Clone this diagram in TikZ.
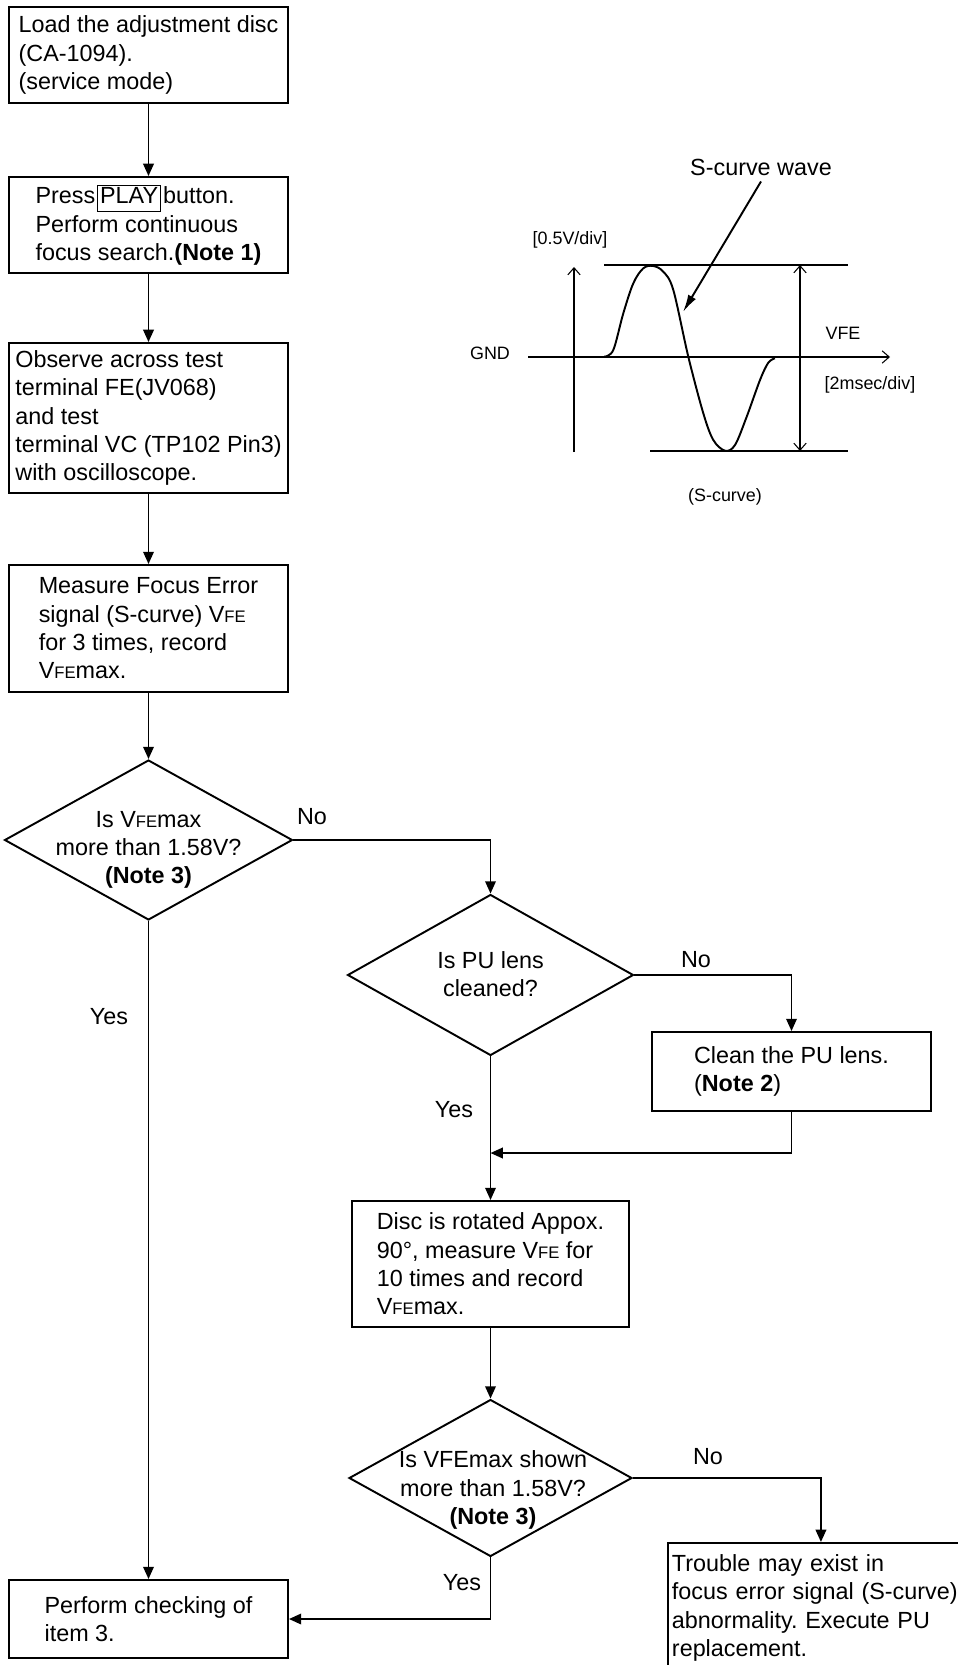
\documentclass[tikz,border=0pt]{standalone}
\usepackage{fontspec}
\setmainfont{Liberation Sans}
\usetikzlibrary{shapes.geometric,arrows.meta,positioning}
\frenchspacing

\newcommand{\vfe}{V{\fontsize{9.5pt}{9.5pt}\selectfont FE}}
\newcommand{\keycap}[1]{{\setlength{\fboxsep}{1.2pt}\setlength{\fboxrule}{0.6pt}\fbox{\vphantom{Py}#1}}}

\begin{document}
\begin{tikzpicture}[
    x=0.02cm, y=-0.02cm,
    >={Straight Barb[length=4pt,width=7pt]},
    box/.style={rectangle, draw=black, line width=1.1pt, align=left, inner sep=0pt, minimum width=5.58cm, font=\fontsize{13.3pt}{16.1pt}\selectfont},
    decision/.style={diamond, draw=black, line width=1.1pt, inner sep=0pt},
    qtext/.style={align=center, inner sep=0pt, font=\fontsize{13.3pt}{16.1pt}\selectfont},
    answer/.style={font=\fontsize{13.3pt}{16.1pt}\selectfont},
    arrow/.style={-{Triangle[length=7pt,width=6pt]}, line width=1.1pt},
    axisline/.style={line width=0.6pt},
    axislabel/.style={font=\fontsize{10.2pt}{12pt}\selectfont}
]
\useasboundingbox (0,0) rectangle (957,1665);

% Left column
\node[box, minimum height=1.92cm] (load) at (148.5,55) {Load the adjustment disc\\(CA-1094).\\(service mode)};
\node[box, minimum height=1.92cm] (play) at (148.5,225) {Press\kern1pt\keycap{PLAY}\kern1pt button.\\Perform continuous\\focus search.\textbf{(Note 1)}};
\node[box, minimum height=3cm] (observe) at (148.5,418) {Observe across test\\terminal FE(JV068)\\and test\\terminal VC (TP102 Pin3)\\with oscilloscope.};
\node[box, minimum height=2.54cm] (measure) at (148.5,628.5) {Measure Focus Error\\signal (S-curve) \vfe\\for 3 times, record\\\vfe max.};
\node[decision, minimum width=5.76cm, minimum height=3.2cm] (check1) at (148.5,840) {};
\node[qtext] (check1txt) at (148.5,850) {Is \vfe max\\more than 1.58V?\\\textbf{(Note 3)}};
\node[box, minimum height=1.56cm] (item3) at (148.5,1619) {Perform checking of\\item 3.};

% Right column
\node[decision, minimum width=5.72cm, minimum height=3.22cm] (lens) at (490.5,975) {};
\node[qtext] (lenstxt) at (490.5,974) {Is PU lens\\cleaned?};
\node[box, minimum height=1.58cm] (clean) at (791.5,1071.5) {Clean the PU lens.\\(\textbf{Note 2})};
\coordinate (merge) at (490.5,1153);
\node[box, minimum width=5.54cm, minimum height=2.52cm] (rotate) at (490.5,1264) {Disc is rotated Appox.\\90°, measure \vfe{} for\\10 times and record\\\vfe max.};
\node[decision, minimum width=5.66cm, minimum height=3.14cm] (check2) at (490.5,1478) {};
\node[qtext] (check2txt) at (493,1490) {Is VFEmax shown\\more than 1.58V?\\\textbf{(Note 3)}};
\node[box, anchor=north west, text width=5.96cm, inner xsep=0.08cm, minimum height=2.6cm] (trouble) at (667,1542) {Trouble may exist in\\focus error signal (S-curve)\\abnormality. Execute PU\\replacement.};

% Connectors
\draw[arrow] (load) -- (play);
\draw[arrow] (play) -- (observe);
\draw[arrow] (observe) -- (measure);
\draw[arrow] (measure) -- (check1);
\draw[arrow] (check1.east) -| (lens.north);
\draw[arrow] (check1.south) -- (item3.north);
\draw[arrow] (lens.east) -| (clean.north);
\draw[arrow] (lens.south) -- (rotate.north);
\draw[arrow] (clean.south) |- (merge);
\draw[arrow] (rotate) -- (check2);
\draw[arrow] (check2.east) -| (trouble.north);
\draw[arrow] (check2.south) |- (item3.east);

\node[answer] (no1) at (312,817) {No};
\node[answer] (yes1) at (109,1017) {Yes};
\node[answer] (no2) at (696,960) {No};
\node[answer] (yes2) at (454,1110) {Yes};
\node[answer] (no3) at (708,1457) {No};
\node[answer] (yes3) at (462,1583) {Yes};

% S-curve graph
\node[answer] (wavelbl) at (761,167) {S-curve wave};
\coordinate (wavetip) at (683,312);
\draw[line width=1.1pt, -{Latex[length=10pt,width=5pt]}] (wavelbl.south) -- (wavetip);
\node[axislabel] (vdiv) at (570,240) {[0.5V/div]};
\node[axislabel] (gnd) at (490,353) {GND};
\node[axislabel] (tdiv) at (870,385) {[2msec/div]};
\node[axislabel] (vfelbl) at (843,333) {VFE};
\node[axislabel] (caption) at (725,497) {(S-curve)};
\draw[axisline, ->] (574,452) -- (574,267);
\draw[axisline, ->] (528,357) -- (890,357);
\draw[axisline] (604,265) -- (848,265);
\draw[axisline] (650,451) -- (848,451);
\draw[axisline, <->] (800,265) -- (800,451);
\draw[line width=1.1pt] plot[smooth, tension=0.55] coordinates {(604.3,356.7) (613.3,350) (623.3,313.3) (633.3,283.3) (643.3,268.3) (653.3,266) (663.3,271.7) (673.3,290) (688.3,356.7) (703.3,413.3) (713.3,440) (725,450.7) (735,445) (746.7,416.7) (760,380) (768.3,362.7) (775,358.3)};

\end{tikzpicture}
\end{document}
